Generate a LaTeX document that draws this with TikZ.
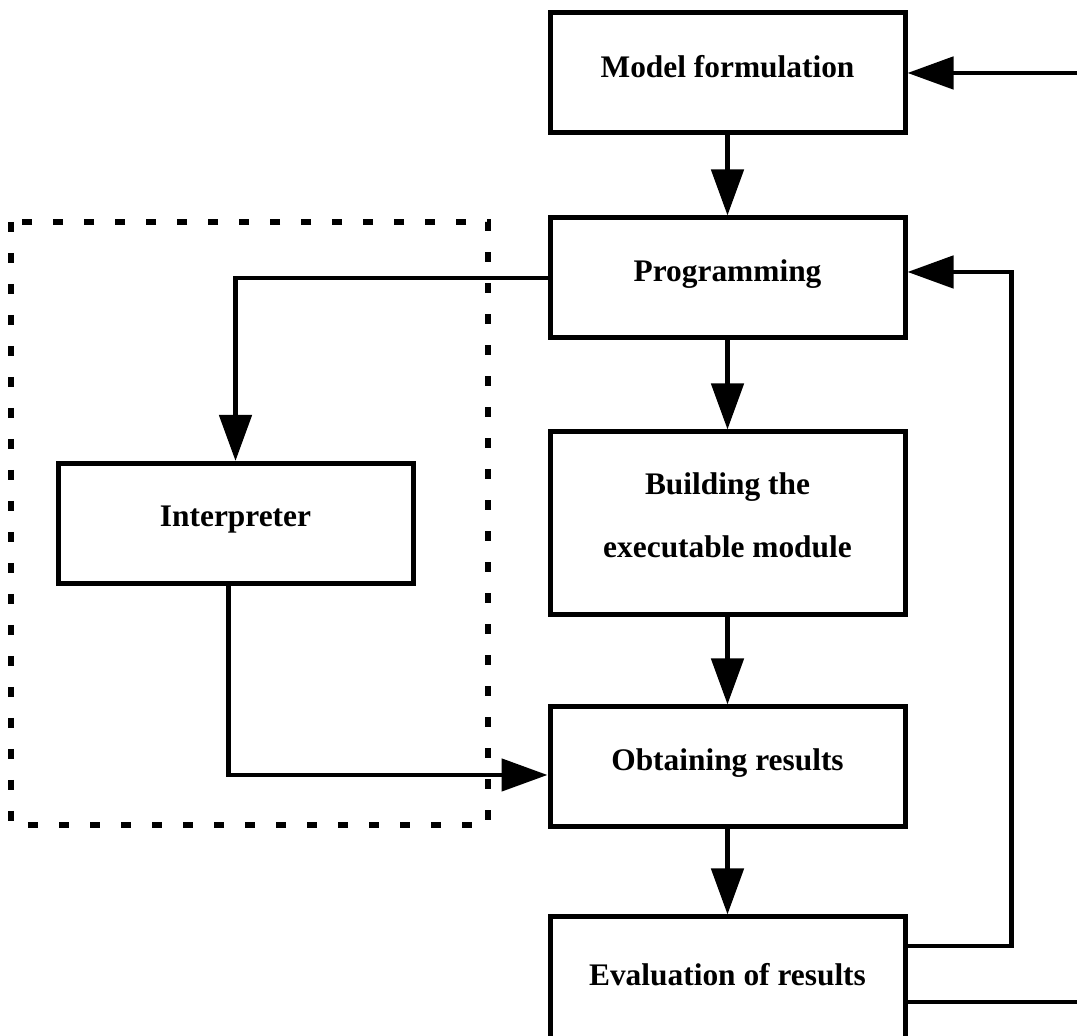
\documentclass[tikz,border=0pt]{standalone}
\usepackage{fontspec}
\setmainfont{Liberation Serif}
\usetikzlibrary{arrows.meta, positioning}

\begin{document}
\begin{tikzpicture}[
        x=0.5pt, y=0.5pt,
        block/.style={rectangle, draw, line width=2.5pt,
                      minimum width=177.5pt, minimum height=60pt,
                      inner sep=0pt, align=center, text depth=7pt,
                      font=\fontsize{15.7}{31.5}\selectfont\bfseries},
        arrow/.style={-{Triangle[length=23pt, width=16pt]}, line width=2.4pt},
        link/.style={line width=2.4pt},
        dashbox/.style={line width=2.8pt, dash pattern=on 5pt off 10.5pt},
    ]
        \useasboundingbox (0,0) rectangle (1077,1036);

        \node[block] (model) at (727.5,963) {Model formulation};
        \node[block, below=40pt of model] (prog) {Programming};
        \node[block, below=44.5pt of prog, minimum height=91.5pt, text depth=8pt] (build) {Building the\\executable module};
        \node[block, below=43.5pt of build] (obtain) {Obtaining results};
        \node[block, below=42.5pt of obtain, minimum height=64pt] (eval) {Evaluation of results};
        \node[block, left=66pt of build] (interp) {Interpreter};

        \draw[dashbox] (11,814) rectangle (488,211);

        \draw[arrow] (model) -- (prog);
        \draw[arrow] (prog) -- (build);
        \draw[arrow] (build) -- (obtain);
        \draw[arrow] (obtain) -- (eval);

        \coordinate (entry) at (1085,963);
        \coordinate (exit) at (1085,34);
        \draw[arrow] (entry) -- (model.east);
        \draw[arrow] (prog.west) -| (interp.north);
        \draw[arrow] ([xshift=-3.5pt]interp.south) |- ([yshift=-4pt]obtain.west);
        \draw[arrow] ([yshift=17.5pt]eval.east) -- ++(52pt,0) |- ([yshift=3pt]prog.east);
        \draw[link] (eval.east |- exit) -- (exit);

    \end{tikzpicture}
\end{document}
